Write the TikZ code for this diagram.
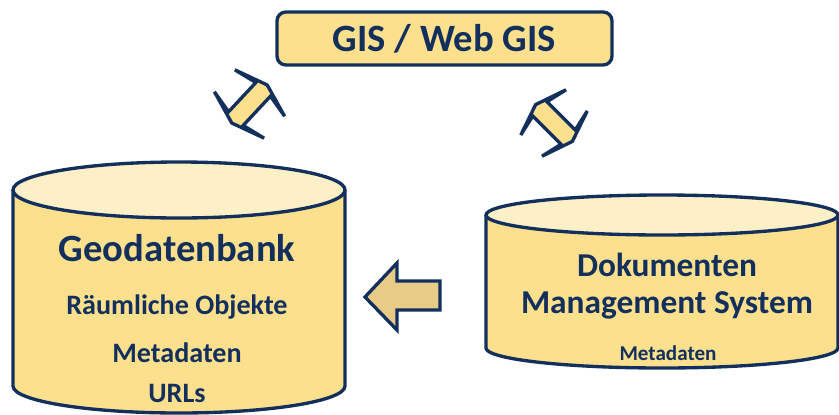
\documentclass[tikz,border=0pt]{standalone}
\usepackage{fontspec}
\setmainfont{Carlito}
\definecolor{navy}{HTML}{13305C}
\definecolor{gold}{HTML}{FCE08E}
\definecolor{goldtop}{HTML}{FDEFC6}
\definecolor{tan}{HTML}{E9CB88}

\begin{document}
\begin{tikzpicture}[x=0.02cm, y=0.02cm,
    outline/.style={draw=navy, line width=1.9pt, line join=round},
    label/.style={text=navy, font=\bfseries\fontsize{#1}{#1}\selectfont}]
  \useasboundingbox (0,0) rectangle (839,414);

  % GIS box on top
  \node (g) [outline, fill=gold, rounded corners=5pt, minimum width=6.7cm, minimum height=1.06cm, label=22] at (444.5, 375.5) {GIS / Web GIS};

  % left cylinder
  \draw[outline, fill=gold] (13,224) -- (13,28) arc[start angle=180, end angle=360, x radius=166, y radius=27] -- (345,224);
  \draw[outline, fill=goldtop] (179,224) ellipse [x radius=166, y radius=28];
  \node (db) [label=22] at (177, 166) {Geodatenbank};
  \node (ro) [label=16] at (177, 107) {Räumliche Objekte};
  \node (md) [label=16] at (177, 61) {Metadaten};
  \node (ur) [label=16] at (177, 21) {URLs};

  % right cylinder
  \draw[outline, fill=gold] (486,199) -- (486,66) arc[start angle=180, end angle=360, x radius=176, y radius=20] -- (838,199);
  \draw[outline, fill=goldtop] (662,199) ellipse [x radius=176, y radius=20];
  \node (dk) [label=19] at (667, 149) {Dokumenten};
  \node (ms) [label=19] at (667, 109) {Management System};
  \node (mr) [label=12] at (668, 61) {Metadaten};

  % arrows
  \draw[outline, line join=miter, fill=tan] (365,117) -- (397,151) -- (397,133) -- (440,133) -- (440,104) -- (397,104) -- (397,84) -- cycle;
  \begin{scope}[shift={(249.5,310)}, rotate=47]
    \draw[outline, line join=miter, fill=gold] (26,0) -- (15,34) -- (20,10) -- (-20,10) -- (-15,34) -- (-26,0) -- (-15,-34) -- (-20,-10) -- (20,-10) -- (15,-34) -- cycle;
  \end{scope}
  \begin{scope}[shift={(554,291)}, rotate=-45]
    \draw[outline, line join=miter, fill=gold] (26,0) -- (15,32) -- (20,10) -- (-20,10) -- (-15,32) -- (-26,0) -- (-15,-32) -- (-20,-10) -- (20,-10) -- (15,-32) -- cycle;
  \end{scope}
\end{tikzpicture}
\end{document}
